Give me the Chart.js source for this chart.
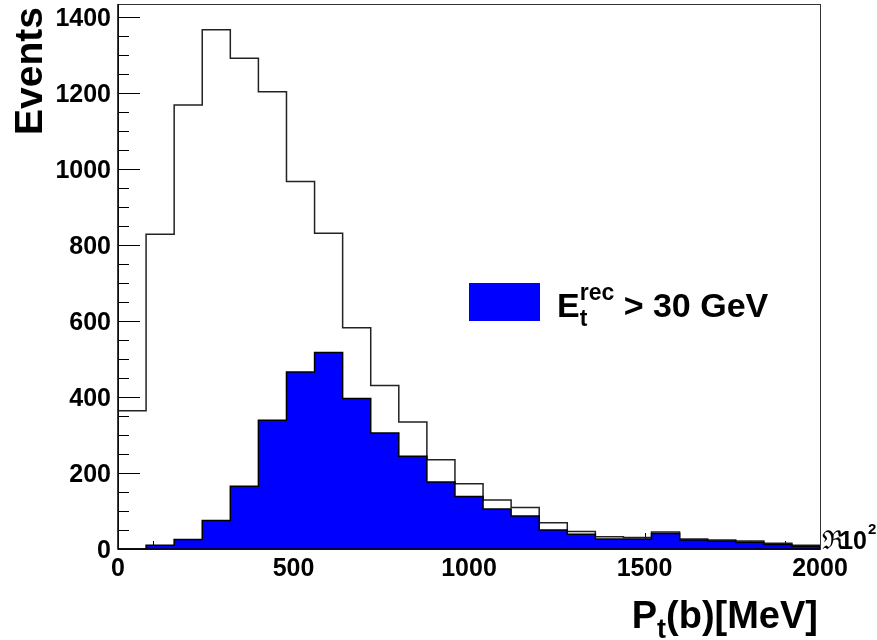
<!DOCTYPE html>
<html>
<head>
<meta charset="utf-8">
<script src="https://cdn.jsdelivr.net/npm/chart.js@4.4.1/dist/chart.umd.min.js"></script>
<style>
  html, body { margin: 0; padding: 0; background: #ffffff; }
  #histCanvas { display: block; }
</style>
</head>
<body>
<canvas id="histCanvas" width="877" height="640"></canvas>
<script>
// Histogram bin edges (x axis, in units shown on the axis)
const binEdges = [0, 80, 160, 240, 320, 400, 480, 560, 640, 720, 800, 880, 960,
                  1040, 1120, 1200, 1280, 1360, 1440, 1520, 1600, 1680, 1760, 1840, 1920, 2000];

// All events (open histogram)
const allEvents = [364, 828, 1168, 1366, 1291, 1203, 967, 831, 582, 430, 334, 235, 172,
                   129, 109, 69, 46, 32, 30, 45, 26, 24, 21, 15, 10];

// Events with E_t^rec > 30 GeV (blue filled histogram)
const cutEvents = [0, 10, 25, 75, 165, 339, 466, 517, 396, 305, 244, 176, 138,
                   105, 87, 50, 39, 26, 26, 41, 24, 21, 18, 12, 7];

const xTickLabels = [0, 500, 1000, 1500, 2000];
const xMinorStep = 100;
const yTickLabels = [0, 200, 400, 600, 800, 1000, 1200, 1400];
const yMinorStep = 50;
const yMax = 1434;

const yTitle = 'Events';
const legendLabel = { main: 'E', sub: 't', sup: 'rec', rest: ' > 30 GeV' };

const boldFont = size => `bold ${size}px "Liberation Sans", Arial, sans-serif`;

// turn bin values into points for a stepped line
function stepPoints(values) {
    const pts = [{ x: binEdges[0], y: 0 }];
    values.forEach((v, i) => pts.push({ x: binEdges[i], y: v }));
    pts.push({ x: binEdges[values.length], y: values[values.length - 1] });
    pts.push({ x: binEdges[values.length], y: 0 });
    return pts;
}

// axis ticks drawn inside the frame, below the histograms (ROOT style)
const rootTicksPlugin = {
    id: 'rootTicks',
    beforeDatasetsDraw(chart) {
        const { ctx, chartArea, scales } = chart;
        const xs = scales.x, ys = scales.y;
        ctx.save();
        ctx.strokeStyle = '#000';
        ctx.lineWidth = 1;
        ctx.beginPath();
        for (let v = xs.min; v <= xs.max; v += xMinorStep) {
            const px = Math.round(xs.getPixelForValue(v)) + 0.5;
            const len = xTickLabels.includes(v) ? 16 : 8;
            ctx.moveTo(px, chartArea.bottom);
            ctx.lineTo(px, chartArea.bottom - len);
        }
        for (let v = 0; v <= ys.max; v += yMinorStep) {
            const py = Math.round(ys.getPixelForValue(v)) + 0.5;
            const len = yTickLabels.includes(v) ? 22 : 11;
            ctx.moveTo(chartArea.left, py);
            ctx.lineTo(chartArea.left + len, py);
        }
        ctx.stroke();
        ctx.restore();
    },
    afterDatasetsDraw(chart) {
        const { ctx, chartArea, scales } = chart;
        const xs = scales.x, ys = scales.y;
        ctx.save();

        // frame
        ctx.strokeStyle = '#333';
        ctx.lineWidth = 1;
        ctx.strokeRect(chartArea.left + 0.5, chartArea.top + 0.5,
                       chartArea.right - chartArea.left, chartArea.bottom - chartArea.top);
        ctx.strokeStyle = '#000';
        ctx.lineWidth = 1.5;
        ctx.beginPath();
        ctx.moveTo(chartArea.left, chartArea.top);
        ctx.lineTo(chartArea.left, chartArea.bottom);
        ctx.lineTo(chartArea.right, chartArea.bottom);
        ctx.stroke();

        ctx.fillStyle = '#000';
        ctx.font = boldFont(25);
        ctx.textBaseline = 'alphabetic';

        // y tick labels
        ctx.textAlign = 'right';
        yTickLabels.forEach(v => {
            ctx.fillText(String(v), chartArea.left - 7, ys.getPixelForValue(v) + 9);
        });

        // x tick labels
        ctx.textAlign = 'center';
        xTickLabels.forEach(v => {
            ctx.fillText(String(v), xs.getPixelForValue(v), chartArea.bottom + 27);
        });

        // exponent marker at end of x axis
        ctx.textAlign = 'left';
        ctx.font = '26px "DejaVu Serif", serif';
        ctx.fillText('\u211C', chartArea.right + 2, chartArea.bottom);
        ctx.font = boldFont(25);
        ctx.textAlign = 'right';
        ctx.fillText('10', chartArea.right + 47, chartArea.bottom);
        ctx.textAlign = 'left';
        ctx.font = boldFont(15);
        ctx.fillText('2', chartArea.right + 48, chartArea.bottom - 15);

        // y title
        ctx.save();
        ctx.translate(42, 7);
        ctx.rotate(-Math.PI / 2);
        ctx.textAlign = 'right';
        ctx.font = boldFont(39);
        ctx.fillText(yTitle, 0, 0);
        ctx.restore();

        // x title: P_t(b)[MeV], right aligned to axis end
        ctx.font = boldFont(38);
        const wP = ctx.measureText('P').width;
        const wRest = ctx.measureText('(b)[MeV]').width;
        ctx.font = boldFont(27);
        const wSub = ctx.measureText('t').width;
        let tx = chartArea.right - 2 - wRest - wSub - wP;
        const ty = 628;
        ctx.textAlign = 'left';
        ctx.font = boldFont(38);
        ctx.fillText('P', tx, ty);
        tx += wP;
        ctx.font = boldFont(27);
        ctx.fillText('t', tx, ty + 10);
        tx += wSub;
        ctx.font = boldFont(38);
        ctx.fillText('(b)[MeV]', tx, ty);

        // legend
        ctx.fillStyle = '#0000ff';
        ctx.fillRect(469, 283, 71, 38);
        ctx.fillStyle = '#000';
        let lx = 557;
        const ly = 317;
        ctx.font = boldFont(34);
        ctx.fillText(legendLabel.main, lx, ly);
        lx += ctx.measureText(legendLabel.main).width;
        ctx.font = boldFont(23);
        ctx.fillText(legendLabel.sup, lx, ly - 17);
        ctx.fillText(legendLabel.sub, lx, ly + 9);
        lx += ctx.measureText(legendLabel.sup).width;
        ctx.font = boldFont(34);
        ctx.fillText(legendLabel.rest, lx, ly);

        ctx.restore();
    }
};

function initHistChart() {
    const ctx = document.getElementById('histCanvas');
    new Chart(ctx, {
        type: 'line',
        data: {
            datasets: [
                {
                    label: 'E_t^rec > 30 GeV',
                    data: stepPoints(cutEvents),
                    stepped: true,
                    borderColor: '#000',
                    borderWidth: 1.5,
                    backgroundColor: '#0000ff',
                    fill: 'origin',
                    pointRadius: 0,
                    order: 0
                },
                {
                    label: 'All',
                    data: stepPoints(allEvents),
                    stepped: true,
                    borderColor: '#222',
                    borderWidth: 1.5,
                    fill: false,
                    pointRadius: 0,
                    order: 1
                }
            ]
        },
        options: {
            responsive: false,
            animation: false,
            layout: { padding: { left: 118, right: 57, top: 4, bottom: 91 } },
            plugins: { legend: { display: false }, tooltip: { enabled: false } },
            scales: {
                x: { type: 'linear', min: 0, max: 2000, display: false },
                y: { type: 'linear', min: 0, max: yMax, display: false }
            }
        },
        plugins: [rootTicksPlugin]
    });
}

window.addEventListener('DOMContentLoaded', initHistChart);
</script>
</body>
</html>
